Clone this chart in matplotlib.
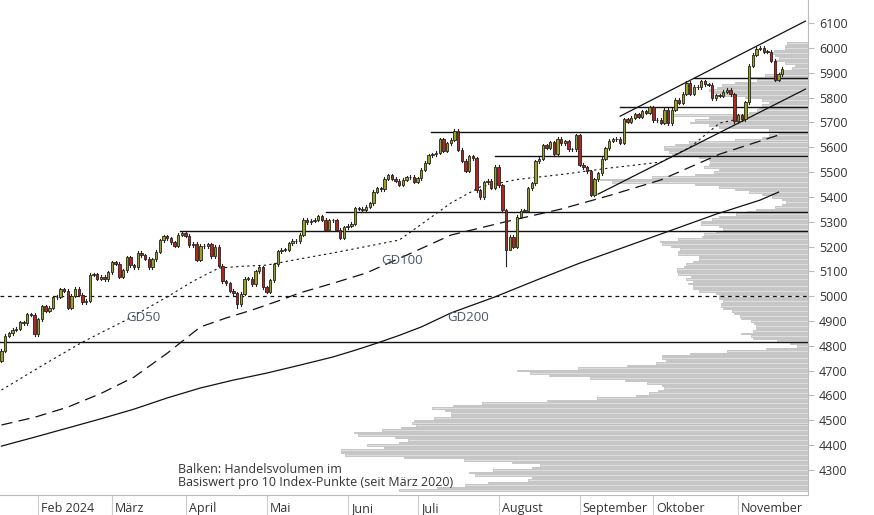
import numpy as np
import matplotlib
matplotlib.use("Agg")
import matplotlib.pyplot as plt
import matplotlib.transforms as mtrans

# S&P 500 daily closes, 18 Jan 2024 .. 19 Nov 2024 (trading days)
CLOSE = [
    4780, 4840, 4850, 4864, 4868, 4894, 4891, 4928, 4925, 4846,
    4906, 4959, 4942, 4954, 4995, 4998, 5027, 5022, 4953, 5001, 5030, 5006, 4976, 4982, 5087, 5089, 5070, 5078, 5069, 5096,
    5137, 5131, 5079, 5105, 5157, 5124, 5117, 5175, 5165, 5150, 5117, 5149, 5179, 5225, 5241, 5234, 5218, 5204, 5248, 5254,
    5243, 5205, 5211, 5147, 5204, 5202, 5209, 5161, 5199, 5123, 5061, 5051, 5022, 5011, 4967, 5010, 5070, 5071, 5048, 5100, 5116, 5036,
    5018, 5064, 5128, 5181, 5187, 5187, 5214, 5223, 5221, 5247, 5308, 5297, 5303, 5308, 5321, 5307, 5268, 5305, 5306, 5267, 5235, 5278,
    5283, 5291, 5354, 5352, 5347, 5361, 5375, 5421, 5434, 5431, 5473, 5487, 5473, 5464, 5448, 5469, 5478, 5482, 5460,
    5475, 5509, 5537, 5567, 5572, 5577, 5633, 5585, 5615, 5631, 5667, 5589, 5545, 5505, 5564, 5555, 5427, 5399, 5459, 5464, 5436, 5522,
    5446, 5347, 5186, 5240, 5199, 5319, 5344, 5344, 5434, 5455, 5543, 5554, 5608, 5597, 5621, 5571, 5635, 5616, 5625, 5592, 5592, 5648,
    5529, 5520, 5503, 5408, 5471, 5496, 5554, 5596, 5626, 5633, 5634, 5618, 5713, 5703, 5719, 5732, 5722, 5745, 5738, 5762,
    5709, 5710, 5699, 5751, 5696, 5751, 5792, 5780, 5815, 5859, 5815, 5843, 5841, 5865, 5853, 5851, 5797, 5809, 5808, 5823, 5832, 5813, 5705,
    5728, 5712, 5782, 5929, 5973, 5996, 6001, 5984, 5985, 5949, 5871, 5894, 5917,
]
FIRST_OPEN = 4740
LOW_OVERRIDE = {64: 4953, 137: 5120, 160: 5403, 138: 5190}

MONTH_IDX = [10, 30, 50, 72, 94, 113, 135, 157, 177, 200]
MONTHS = ["Feb 2024", "März", "April", "Mai", "Juni", "Juli", "August", "September", "Oktober", "November"]

# moving averages (trading-day index, value)
GD50_X = [0, 11, 22, 34, 45, 52, 59, 65, 72, 81, 90, 99, 108, 115, 122, 130, 140, 152, 165, 179, 187, 195, 199]
GD50_Y = [4622, 4720, 4815, 4905, 4997, 5060, 5113, 5120, 5125, 5150, 5174, 5200, 5226, 5300, 5375, 5440, 5470, 5490, 5516, 5540, 5600, 5697, 5710]
GD100_X = [0, 9, 18, 27, 36, 45, 54, 61, 68, 75, 81, 90, 99, 110, 122, 137, 152, 165, 179, 195, 211]
GD100_Y = [4481, 4512, 4553, 4608, 4674, 4770, 4876, 4912, 4944, 4980, 5013, 5052, 5093, 5165, 5246, 5300, 5351, 5405, 5468, 5572, 5649]
GD200_X = [0, 9, 18, 27, 36, 45, 54, 63, 72, 81, 90, 96, 102, 108, 114, 122, 134, 145, 157, 170, 182, 194, 206, 211]
GD200_Y = [4396, 4432, 4469, 4506, 4545, 4590, 4630, 4662, 4690, 4722, 4755, 4782, 4811, 4842, 4876, 4932, 4997, 5063, 5133, 5202, 5266, 5330, 5387, 5419]

# horizontal support / resistance lines: (level, start index)
LEVELS = [(4815, -1), (5263, 48.6), (5340, 88), (5564, 134), (5662, 116.5), (5762, 168), (5880, 188)]
CHANNEL_UP = ([168, 218.3], [5725, 6108])
CHANNEL_LO = ([162, 218.3], [5411, 5834])

# volume profile per 10 index points, starting at 4220 (relative units)
VOL = [
    409, 371, 343, 320, 280, 276, 333, 339, 315, 276,
    268, 296, 344, 404, 463, 467, 467, 424, 441, 409,
    400, 413, 450, 454, 426, 407, 392, 396, 394, 374,
    357, 357, 363, 376, 355, 326, 261, 211, 172, 159,
    150, 144, 146, 161, 183, 218, 259, 278, 291, 230,
    181, 152, 142, 146, 146, 118, 81, 42, 11,
    18, 31, 55, 57, 67, 55, 52, 52, 54, 57,
    67, 68, 74, 76, 85, 87, 87, 85, 89, 89,
    92, 109, 115, 115, 120, 115, 122, 117, 130, 131,
    131, 124, 122, 115, 109, 109, 130, 130, 128, 137,
    146, 148, 130, 106, 104, 92, 85, 89, 107, 107,
    96, 89, 72, 61, 52, 33, 26, 22,
    26, 36, 46, 59, 73, 89, 113, 196, 208, 156,
    113, 94, 89, 104, 99, 98, 99, 109, 136, 139,
    144, 144, 133, 119, 73, 46, 39, 29, 39, 89,
    99, 118, 113, 99, 136, 59, 51, 49, 46, 39,
    46, 63, 83, 96, 99, 91, 86, 73, 51, 59,
    43, 29, 26, 16, 13, 23, 33, 29, 33, 36,
    34, 23, 23, 21,
]
VOL_START = 4220

XMAX = 219
plt.rcParams['font.family'] = ['Open Sans', 'DejaVu Sans']

fig = plt.figure(figsize=(8.74, 5.15), dpi=100)
ax = fig.add_axes([0, 20 / 515, 808 / 874, 495 / 515])
axv = ax.twiny()
ax.set_zorder(axv.get_zorder() + 1)
ax.patch.set_visible(False)

# volume profile, from the right edge
bins = VOL_START + 10 * np.arange(len(VOL))
axv.barh(bins, VOL, height=6, color="#dedede", edgecolor="#b5b5b5", linewidth=0.5)
axv.set_xlim(808, 0)
axv.axis("off")

close = np.array(CLOSE, dtype=float)
opn = np.concatenate([[FIRST_OPEN], close[:-1]])
x = np.arange(len(close))
wick = 6
for i in x:
    o, c = opn[i], close[i]
    hi = max(o, c) + wick
    lo = LOW_OVERRIDE.get(i, min(o, c) - wick)
    ax.plot([i, i], [lo, hi], color="#222222", lw=0.8, zorder=4)
    col = "#9aa31e" if c >= o else "#b8231f"
    h = max(abs(c - o), 2)
    ax.add_patch(plt.Rectangle((i - 0.32, min(o, c)), 0.64, h, facecolor=col,
                               edgecolor="#222222", lw=0.6, zorder=5))

ax.plot(GD50_X, GD50_Y, color="#111111", lw=0.8, ls=(0, (2, 3)), zorder=3)
ax.plot(GD100_X, GD100_Y, color="#111111", lw=0.9, ls=(0, (9, 5)), zorder=3)
ax.plot(GD200_X, GD200_Y, color="#111111", lw=0.9, zorder=3)

for lvl, start in LEVELS:
    ax.plot([start, XMAX], [lvl, lvl], color="#111111", lw=1.0, zorder=3)
ax.axhline(5000, color="#111111", lw=0.9, ls=(0, (3, 3)), zorder=3)
ax.plot(*CHANNEL_UP, color="#111111", lw=0.9, zorder=3)
ax.plot(*CHANNEL_LO, color="#111111", lw=0.9, zorder=3)

lab = dict(color="#4a5568", fontsize=9.5)
ax.text(34, 4900, "GD50", **lab)
ax.text(103, 5130, "GD100", **lab)
ax.text(121, 4900, "GD200", **lab)
ax.text(48, 4235, "Balken: Handelsvolumen im\nBasiswert pro 10 Index-Punkte (seit März 2020)",
        fontsize=9, color="#333333", linespacing=1.0)

ax.set_xlim(-0.4, XMAX)
ax.set_ylim(4199, 6193)
ax.yaxis.tick_right()
ax.set_yticks(range(4300, 6101, 100))
ax.tick_params(axis="y", length=4, color="#bbbbbb", labelsize=9, labelcolor="#333333", pad=4)
ax.set_xticks(MONTH_IDX)
ax.set_xticklabels(MONTHS, ha="left")
ax.tick_params(axis="x", length=18, direction="out", color="#cccccc", labelsize=9,
               labelcolor="#333333", pad=-13)
off = mtrans.ScaledTranslation(3 / 100, 0, fig.dpi_scale_trans)
for lbl in ax.get_xticklabels():
    lbl.set_transform(lbl.get_transform() + off)
for s in ["top", "left"]:
    ax.spines[s].set_visible(False)
ax.spines["right"].set_color("#bbbbbb")
ax.spines["bottom"].set_color("#bbbbbb")

fig.savefig("out.png", dpi=100)
